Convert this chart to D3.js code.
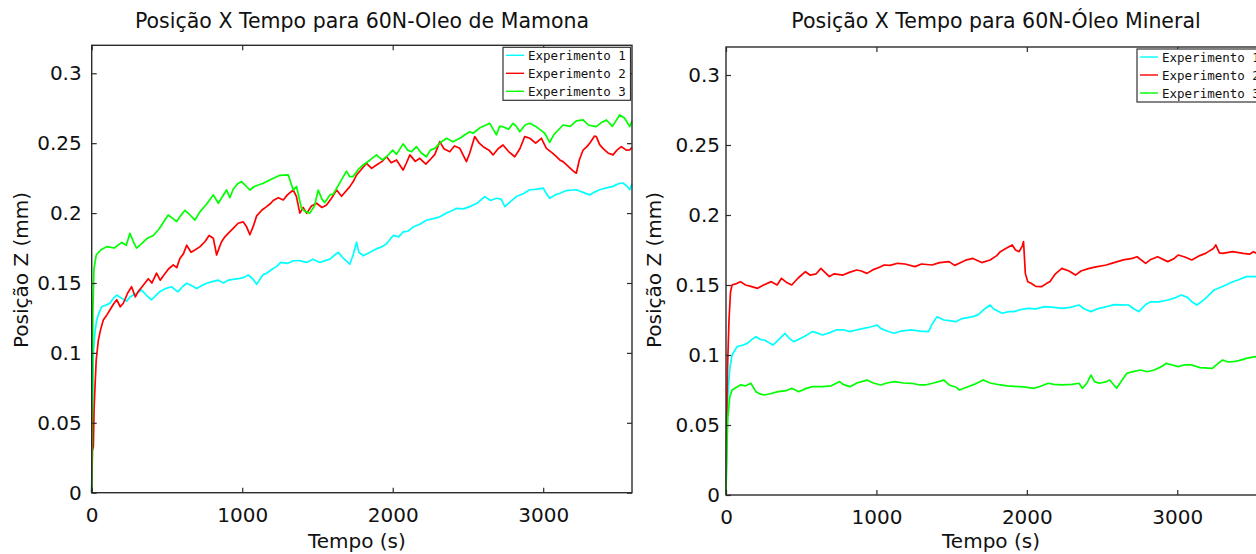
<!DOCTYPE html>
<html>
<head>
<meta charset="utf-8">
<script src="https://cdn.jsdelivr.net/npm/d3@7"></script>
<style>
  body { margin: 0; background: #fff; overflow: hidden; }
  svg { display: block; }
  .tick text { font-family: "DejaVu Sans", sans-serif; font-size: 20px; fill: #111; }
  .tick line { stroke: #2b2b2b; stroke-width: 1.2; }
</style>
</head>
<body>
<script>
// ---------------------------------- data ----------------------------------
const seriesNames = ["Experimento 1", "Experimento 2", "Experimento 3"];
const seriesColors = ["#00ffff", "#ff0000", "#00ff00"];
const xTicks = [0, 1000, 2000, 3000];
const yTicks = [0, 0.05, 0.1, 0.15, 0.2, 0.25, 0.3];
const titles = ["Posição X Tempo para 60N-Oleo de Mamona", "Posição X Tempo para 60N-Óleo Mineral"];

// [tempo (s), posição (mm)] - Óleo de Mamona
const mamonaExp1 = [[0,0],[5,0.05],[11,0.1],[22,0.115],[33,0.1235],[50,0.129],[66,0.133],[90,0.134],[121,0.1355],[145,0.139],[166,0.1414],[200,0.139],[232,0.137],[255,0.140],[276,0.1414],[305,0.143],[332,0.145],[365,0.141],[398,0.138],[425,0.141],[453,0.1438],[490,0.146],[531,0.1473],[555,0.145],[575,0.1438],[600,0.147],[631,0.1498],[665,0.148],[697,0.146],[730,0.148],[764,0.1498],[800,0.151],[841,0.152],[875,0.150],[907,0.152],[940,0.1526],[985,0.1533],[1007,0.1538],[1040,0.1557],[1070,0.153],[1096,0.149],[1120,0.153],[1140,0.156],[1162,0.157],[1200,0.160],[1228,0.1617],[1255,0.1647],[1300,0.164],[1339,0.1659],[1380,0.166],[1428,0.1647],[1470,0.167],[1516,0.1647],[1550,0.166],[1583,0.1671],[1615,0.170],[1638,0.1719],[1670,0.168],[1715,0.1634],[1737,0.170],[1760,0.1792],[1775,0.172],[1804,0.1695],[1850,0.172],[1892,0.1744],[1930,0.176],[1959,0.178],[2003,0.184],[2040,0.183],[2069,0.1865],[2100,0.187],[2136,0.190],[2180,0.192],[2224,0.1949],[2270,0.196],[2313,0.1973],[2357,0.200],[2400,0.202],[2424,0.2034],[2470,0.203],[2512,0.2046],[2560,0.207],[2612,0.2118],[2650,0.209],[2689,0.2106],[2720,0.210],[2745,0.2046],[2780,0.208],[2822,0.2118],[2870,0.214],[2911,0.2167],[2950,0.217],[2999,0.2179],[3021,0.214],[3043,0.2106],[3080,0.213],[3110,0.2142],[3150,0.216],[3220,0.2167],[3260,0.215],[3309,0.213],[3340,0.215],[3375,0.2167],[3420,0.218],[3464,0.2191],[3500,0.221],[3530,0.2215],[3560,0.219],[3575,0.2167],[3590,0.221]];
const mamonaExp2 = [[0,0],[5,0.03],[11,0.033],[16,0.06],[22,0.076],[30,0.095],[44,0.109],[60,0.117],[77,0.1235],[100,0.127],[121,0.1307],[145,0.135],[166,0.138],[190,0.133],[210,0.1355],[240,0.143],[265,0.1473],[290,0.140],[310,0.144],[340,0.148],[376,0.153],[400,0.150],[431,0.157],[455,0.152],[475,0.155],[510,0.160],[542,0.163],[565,0.161],[586,0.1675],[610,0.171],[631,0.177],[660,0.172],[686,0.1736],[720,0.176],[752,0.1795],[780,0.184],[808,0.182],[830,0.170],[850,0.176],[863,0.1795],[885,0.183],[907,0.1855],[940,0.189],[973,0.1927],[1007,0.1937],[1030,0.190],[1051,0.1845],[1075,0.191],[1096,0.198],[1130,0.202],[1162,0.2046],[1190,0.207],[1206,0.209],[1240,0.211],[1273,0.2094],[1300,0.213],[1339,0.2165],[1360,0.212],[1383,0.2],[1405,0.204],[1428,0.1998],[1460,0.205],[1494,0.207],[1530,0.204],[1560,0.2058],[1590,0.210],[1627,0.2165],[1660,0.212],[1715,0.2189],[1740,0.223],[1760,0.2273],[1790,0.231],[1826,0.2356],[1860,0.232],[1892,0.2344],[1930,0.237],[1959,0.2403],[1990,0.236],[2025,0.238],[2069,0.2308],[2092,0.236],[2114,0.2416],[2150,0.237],[2180,0.2392],[2220,0.235],[2247,0.238],[2280,0.242],[2313,0.2511],[2340,0.246],[2379,0.2439],[2410,0.248],[2446,0.2463],[2490,0.2368],[2512,0.243],[2545,0.2547],[2575,0.250],[2601,0.2475],[2640,0.245],[2667,0.2416],[2700,0.246],[2733,0.2487],[2770,0.244],[2811,0.2403],[2845,0.246],[2877,0.2547],[2911,0.2535],[2950,0.250],[2988,0.2535],[3021,0.2463],[3060,0.243],[3088,0.2403],[3110,0.238],[3132,0.2368],[3170,0.233],[3200,0.230],[3220,0.2285],[3240,0.238],[3265,0.2451],[3290,0.2475],[3309,0.2499],[3340,0.255],[3353,0.2547],[3375,0.249],[3397,0.2463],[3430,0.243],[3464,0.2416],[3490,0.245],[3519,0.2475],[3552,0.245],[3575,0.2451],[3590,0.247]];
const mamonaExp3 = [[0,0],[4,0.06],[8,0.13],[15,0.16],[30,0.170],[60,0.1736],[100,0.176],[150,0.175],[200,0.179],[230,0.177],[254,0.1855],[275,0.180],[298,0.175],[330,0.178],[370,0.182],[410,0.184],[450,0.189],[480,0.194],[509,0.1986],[540,0.196],[564,0.194],[590,0.198],[620,0.202],[650,0.199],[686,0.195],[720,0.201],[760,0.206],[808,0.213],[841,0.207],[870,0.212],[896,0.2165],[918,0.211],[940,0.217],[970,0.221],[996,0.2225],[1051,0.2165],[1080,0.219],[1140,0.2213],[1190,0.224],[1250,0.227],[1306,0.2273],[1339,0.2165],[1361,0.219],[1394,0.2034],[1420,0.201],[1450,0.200],[1480,0.205],[1505,0.2165],[1530,0.210],[1549,0.2075],[1583,0.213],[1605,0.2135],[1650,0.222],[1693,0.23],[1715,0.226],[1737,0.2261],[1770,0.231],[1804,0.2344],[1850,0.238],[1892,0.2416],[1930,0.238],[1959,0.2403],[2000,0.245],[2025,0.242],[2069,0.2495],[2100,0.245],[2125,0.2439],[2158,0.2475],[2190,0.243],[2224,0.2403],[2250,0.245],[2280,0.2463],[2313,0.250],[2357,0.2535],[2400,0.251],[2446,0.2535],[2480,0.256],[2512,0.2582],[2534,0.2571],[2580,0.261],[2645,0.2642],[2689,0.2559],[2710,0.262],[2733,0.2618],[2770,0.260],[2800,0.2642],[2822,0.262],[2844,0.2582],[2880,0.263],[2911,0.2642],[2950,0.262],[2988,0.259],[3010,0.2571],[3043,0.2505],[3070,0.256],[3132,0.263],[3180,0.262],[3220,0.266],[3265,0.2666],[3300,0.263],[3353,0.2618],[3390,0.265],[3420,0.2666],[3460,0.262],[3508,0.2702],[3540,0.268],[3575,0.2618],[3590,0.266]];

// [tempo (s), posição (mm)] - Óleo Mineral
const mineralExp1 = [[0,0],[5,0.04],[12,0.07],[25,0.09],[40,0.1],[74,0.106],[110,0.107],[142,0.1083],[170,0.111],[199,0.113],[230,0.111],[256,0.1107],[312,0.1071],[350,0.111],[392,0.1155],[420,0.112],[449,0.1095],[480,0.111],[517,0.113],[574,0.1167],[600,0.116],[642,0.1143],[690,0.116],[733,0.1179],[780,0.118],[824,0.1167],[870,0.118],[915,0.119],[960,0.120],[1006,0.1214],[1028,0.119],[1074,0.117],[1119,0.1155],[1160,0.117],[1233,0.1179],[1290,0.117],[1347,0.1167],[1370,0.122],[1403,0.1274],[1449,0.125],[1483,0.1245],[1528,0.1238],[1570,0.126],[1642,0.1274],[1680,0.129],[1710,0.1321],[1756,0.1357],[1778,0.133],[1835,0.1298],[1880,0.131],[1915,0.131],[1960,0.1325],[2006,0.1333],[2060,0.133],[2119,0.1345],[2180,0.134],[2233,0.1333],[2290,0.134],[2347,0.1357],[2380,0.133],[2426,0.131],[2470,0.133],[2528,0.1345],[2580,0.136],[2676,0.1357],[2710,0.133],[2744,0.131],[2790,0.136],[2824,0.138],[2880,0.138],[2937,0.1393],[2990,0.141],[3028,0.1429],[3070,0.141],[3097,0.138],[3131,0.1357],[3160,0.138],[3188,0.1405],[3244,0.1464],[3280,0.148],[3324,0.150],[3360,0.152],[3403,0.1536],[3460,0.156],[3517,0.156],[3560,0.157],[3590,0.1565]];
const mineralExp2 = [[0,0],[4,0.05],[10,0.09],[20,0.125],[30,0.145],[40,0.150],[70,0.151],[96,0.1524],[130,0.150],[165,0.149],[210,0.1476],[250,0.150],[301,0.1524],[340,0.150],[369,0.1548],[400,0.152],[437,0.150],[480,0.155],[528,0.1595],[560,0.157],[600,0.158],[631,0.1619],[687,0.156],[720,0.158],[778,0.1571],[820,0.159],[869,0.1607],[900,0.160],[937,0.1583],[980,0.161],[1028,0.163],[1051,0.1643],[1090,0.164],[1142,0.1655],[1190,0.165],[1256,0.1631],[1300,0.165],[1369,0.1643],[1420,0.166],[1483,0.1667],[1520,0.164],[1551,0.1655],[1600,0.168],[1642,0.169],[1700,0.166],[1756,0.1679],[1800,0.171],[1824,0.1738],[1860,0.176],[1903,0.1786],[1925,0.175],[1949,0.1738],[1970,0.178],[1978,0.181],[1984,0.170],[1990,0.1583],[2006,0.1524],[2028,0.1512],[2060,0.149],[2097,0.1488],[2130,0.151],[2153,0.1524],[2190,0.158],[2233,0.1619],[2280,0.160],[2324,0.1571],[2360,0.160],[2415,0.1619],[2460,0.163],[2528,0.1643],[2580,0.166],[2642,0.1679],[2700,0.169],[2733,0.1702],[2790,0.1655],[2820,0.168],[2869,0.1702],[2937,0.1667],[2980,0.169],[3006,0.1714],[3050,0.170],[3097,0.1679],[3150,0.171],[3188,0.1726],[3240,0.176],[3256,0.1786],[3280,0.173],[3301,0.1726],[3369,0.1738],[3438,0.1726],[3480,0.172],[3506,0.1738],[3540,0.172],[3590,0.173]];
const mineralExp3 = [[0,0],[5,0.03],[12,0.055],[25,0.07],[40,0.075],[96,0.0786],[130,0.078],[165,0.0798],[199,0.0738],[230,0.072],[256,0.0714],[300,0.0725],[346,0.0738],[400,0.0745],[437,0.0762],[483,0.0738],[530,0.076],[574,0.0774],[642,0.0774],[700,0.078],[756,0.081],[778,0.079],[824,0.0774],[870,0.08],[937,0.0821],[980,0.08],[1028,0.0786],[1070,0.08],[1119,0.081],[1180,0.08],[1233,0.0798],[1290,0.0786],[1324,0.0786],[1380,0.08],[1449,0.0821],[1483,0.0786],[1530,0.077],[1551,0.075],[1600,0.077],[1650,0.079],[1710,0.0821],[1756,0.08],[1824,0.0786],[1870,0.078],[1949,0.0774],[1990,0.077],[2051,0.0762],[2100,0.078],[2142,0.0798],[2180,0.079],[2233,0.0786],[2300,0.079],[2347,0.0798],[2369,0.0762],[2400,0.080],[2426,0.0857],[2450,0.081],[2483,0.0798],[2530,0.081],[2551,0.0821],[2597,0.0762],[2620,0.080],[2665,0.0869],[2700,0.088],[2756,0.0893],[2800,0.088],[2847,0.0893],[2900,0.092],[2926,0.094],[2960,0.093],[3006,0.0917],[3050,0.093],[3097,0.0929],[3150,0.091],[3233,0.0905],[3260,0.093],[3301,0.0964],[3340,0.095],[3369,0.0952],[3410,0.096],[3460,0.0976],[3517,0.0988],[3560,0.098],[3590,0.0985]];

// ---------------------------------- layout ----------------------------------
const width = 1256, height = 554;

const panels = [
  { title: titles[0], series: [mamonaExp1, mamonaExp2, mamonaExp3],
    left: 91.7, right: 632, top: 45.3, bottom: 492.7, yPad: 10, cx: 362, labelX: 28 },
  { title: titles[1], series: [mineralExp1, mineralExp2, mineralExp3],
    left: 726, right: 1266, top: 47, bottom: 495, yPad: 6, cx: 996, labelX: 661 }
];

const svg = d3.select("body").append("svg")
  .attr("width", width)
  .attr("height", height);

panels.forEach(function(p) {
  const xScale = d3.scaleLinear().domain([0, 3590]).range([p.left, p.right]);
  const yScale = d3.scaleLinear().domain([0, 0.32]).range([p.bottom, p.top]);
  const fmt = d => String(+d.toFixed(2));

  const g = svg.append("g");

  // data lines
  const line = d3.line().x(d => xScale(d[0])).y(d => yScale(d[1]));
  p.series.forEach(function(s, i) {
    g.append("path")
      .datum(s)
      .attr("d", line)
      .attr("fill", "none")
      .attr("stroke", seriesColors[i])
      .attr("stroke-width", 1.7)
      .attr("stroke-linejoin", "round");
  });

  // axes (ticks pointing inward)
  g.append("g")
    .attr("transform", `translate(0,${p.bottom})`)
    .call(d3.axisBottom(xScale).tickValues(xTicks).tickSize(-5).tickPadding(15).tickFormat(d3.format("d")))
    .call(a => a.select(".domain").remove());
  g.append("g")
    .attr("transform", `translate(0,${p.top})`)
    .call(d3.axisTop(xScale).tickValues(xTicks).tickSize(-5).tickFormat(""))
    .call(a => a.select(".domain").remove());
  g.append("g")
    .attr("transform", `translate(${p.left},0)`)
    .call(d3.axisLeft(yScale).tickValues(yTicks).tickSize(-5).tickPadding(p.yPad).tickFormat(fmt))
    .call(a => a.select(".domain").remove());
  g.append("g")
    .attr("transform", `translate(${p.right},0)`)
    .call(d3.axisRight(yScale).tickValues(yTicks).tickSize(-5).tickFormat(""))
    .call(a => a.select(".domain").remove());

  // frame
  g.append("rect")
    .attr("x", p.left).attr("y", p.top)
    .attr("width", p.right - p.left).attr("height", p.bottom - p.top)
    .attr("fill", "none")
    .attr("stroke", "#2b2b2b")
    .attr("stroke-width", 1.4);

  // title and axis labels
  g.append("text")
    .attr("x", p.cx).attr("y", 28)
    .attr("text-anchor", "middle")
    .style("font-family", "DejaVu Sans, sans-serif")
    .style("font-size", "20.5px")
    .attr("fill", "#111")
    .text(p.title);

  g.append("text")
    .attr("x", (p.left + p.right) / 2 - 5).attr("y", 548)
    .attr("text-anchor", "middle")
    .style("font-family", "DejaVu Sans, sans-serif")
    .style("font-size", "20px")
    .attr("fill", "#111")
    .text("Tempo (s)");

  g.append("text")
    .attr("transform", `translate(${p.labelX},270) rotate(-90)`)
    .attr("text-anchor", "middle")
    .style("font-family", "DejaVu Sans, sans-serif")
    .style("font-size", "20px")
    .attr("fill", "#111")
    .text("Posição Z (mm)");

  // legend (the right panel's legend runs past the picture edge, as in the original)
  const lx = p.right - 129, ly = p.top + 2;
  const legend = g.append("g").attr("transform", `translate(${lx},${ly})`);
  legend.append("rect")
    .attr("width", 127.5).attr("height", 53)
    .attr("fill", "#fff")
    .attr("stroke", "#333")
    .attr("stroke-width", 1.2);
  seriesNames.forEach(function(name, i) {
    const yy = 8 + i * 18;
    legend.append("line")
      .attr("x1", 3).attr("x2", 21)
      .attr("y1", yy).attr("y2", yy)
      .attr("stroke", seriesColors[i])
      .attr("stroke-width", 1.4);
    legend.append("text")
      .attr("x", 25).attr("y", yy + 4.5)
      .style("font-family", "DejaVu Sans Mono, monospace")
      .style("font-size", "12.5px")
      .attr("fill", "#111")
      .text(name);
  });
});
</script>
</body>
</html>
